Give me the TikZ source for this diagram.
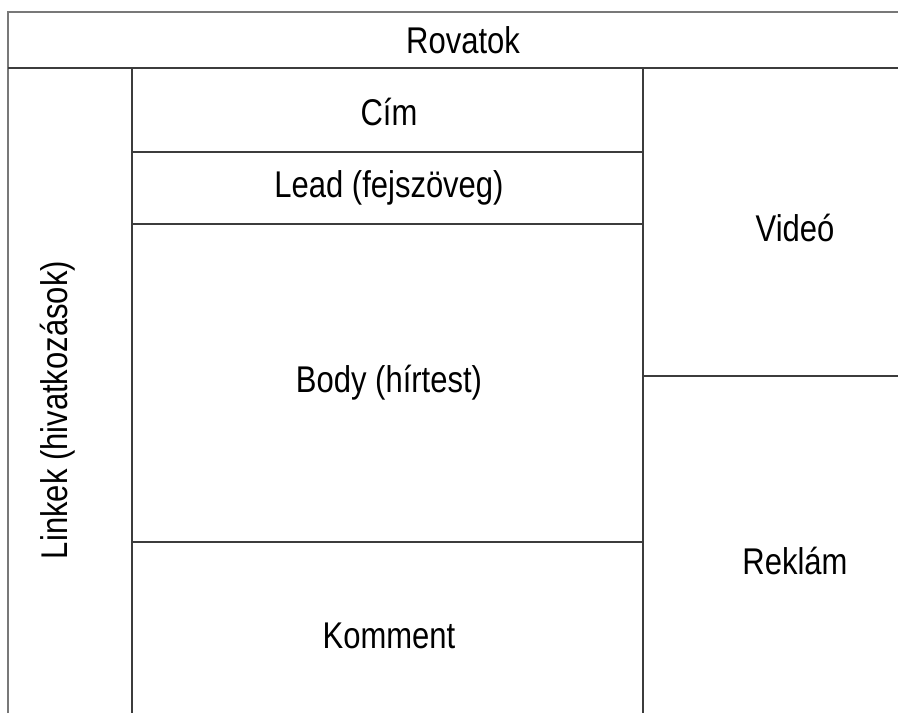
\documentclass[tikz,border=0pt]{standalone}
\usepackage{fontspec, graphicx}
\setmainfont{Liberation Sans}
\usetikzlibrary{positioning}
\definecolor{LineGrey}{RGB}{60, 60, 60}
\definecolor{FrameGrey}{RGB}{120, 120, 120}
\newcommand{\tallText}[1]{\scalebox{1}[1.2]{#1}}

\begin{document}
\begin{tikzpicture}[x=0.5pt, y=-0.5pt, font=\fontsize{15.5}{18}\selectfont]
		\useasboundingbox (0,0) rectangle (898,713);

		% Header
		\draw[FrameGrey, line width=1pt] (8,713) -- (8,12) -- (898,12);
		\draw[LineGrey, line width=1.1pt] (8,68) -- (898,68);
		\node[draw=none, fill=none] (rovatok) at (463,40) {\tallText{Rovatok}};

		% Links column
		\draw[LineGrey, line width=1.1pt] (132,68) -- (132,713);
		\node[draw=none, fill=none, rotate=90] (linkek) at (58,410) {\tallText{Linkek (hivatkozások)}};

		% Article
		\draw[LineGrey, line width=1pt] (132,152) -- (643,152);
		\draw[LineGrey, line width=1pt] (132,224) -- (643,224);
		\draw[LineGrey, line width=1pt] (132,542) -- (643,542);
		\node[draw=none, fill=none] (cim) at (389,112) {\tallText{Cím}};
		\node[draw=none, fill=none] (lead) at (389,188) {\tallText{Lead (fejszöveg)}};
		\node[draw=none, fill=none] (body) at (389,383) {\tallText{Body (hírtest)}};
		\node[draw=none, fill=none] (komment) at (389,636) {\tallText{Komment}};

		% Side column
		\draw[LineGrey, line width=1.1pt] (643,68) -- (643,713);
		\draw[LineGrey, line width=1.1pt] (643,376) -- (898,376);
		\node[draw=none, fill=none] (video) at (795,228) {\tallText{Videó}};
		\node[draw=none, fill=none] (reklam) at (795,561) {\tallText{Reklám}};
	\end{tikzpicture}
\end{document}
